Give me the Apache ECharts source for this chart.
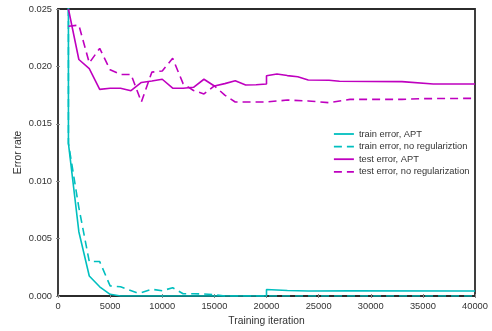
<!DOCTYPE html>
<html>
<head>
<meta charset="utf-8">
<script src="https://cdn.jsdelivr.net/npm/echarts@6/dist/echarts.min.js"></script>
<style>
  html, body { margin: 0; padding: 0; background: #fff; }
  #chart { width: 492px; height: 331px; }
</style>
</head>
<body>
<div id="chart"></div>
<script>
// Error curves over training iterations (values above 0.025 run off the top of the axis)
const trainAptIter = [1000, 1000, 2000, 3000, 4000, 5000, 6000, 20000, 20000, 22000, 24000, 28000, 40000];
const trainAptErr  = [0.05, 0.0133, 0.0056, 0.00174, 0.0008, 0.00015, 0.0, 0.0, 0.00056, 0.00048, 0.00044, 0.00045, 0.00044];

const trainNoRegIter = [1000, 1000, 2000, 3000, 4000, 5000, 6000, 7500, 8000, 9000, 10000, 11000, 12000, 13000, 14000, 15000, 16000, 40000];
const trainNoRegErr  = [0.05, 0.0133, 0.0077, 0.0030, 0.0030, 0.00088, 0.0008, 0.0003, 0.0003, 0.00058, 0.00046, 0.00072, 0.0002, 0.0002, 0.00017, 0.00012, 0.0, 0.0];

const testAptIter = [1000, 2000, 3000, 4000, 5000, 6000, 7000, 8000, 9000, 10000, 11000, 12000, 13000, 14000, 15000, 16000, 17000, 18000, 19000, 20000, 20000, 21000, 22000, 23000, 24000, 26000, 27000, 33000, 36000, 40000];
const testAptErr  = [0.025, 0.0206, 0.0198, 0.0180, 0.0181, 0.0181, 0.01788, 0.0186, 0.01873, 0.01888, 0.0181, 0.0181, 0.01818, 0.01888, 0.01829, 0.0185, 0.01875, 0.01838, 0.0184, 0.01847, 0.01919, 0.01934, 0.0192, 0.0191, 0.01882, 0.01879, 0.0187, 0.01867, 0.01847, 0.01847];

const testNoRegIter = [1000, 2000, 3000, 4000, 5000, 6000, 7000, 8000, 9000, 10000, 11000, 12000, 13000, 14000, 15000, 16000, 17000, 18000, 20000, 22000, 24000, 26000, 28000, 33000, 35000, 40000];
const testNoRegErr  = [0.0235, 0.0236, 0.0203, 0.02157, 0.0197, 0.0193, 0.0193, 0.0169, 0.0195, 0.0196, 0.0207, 0.0185, 0.0179, 0.0176, 0.0183, 0.0175, 0.0169, 0.0169, 0.0169, 0.01707, 0.01699, 0.01684, 0.01713, 0.01713, 0.01719, 0.01722];

const seriesNames = ['train error, APT', 'train error, no regulariztion', 'test error, APT', 'test error, no regularization'];
const xTitle = 'Training iteration';
const yTitle = 'Error rate';

const CYAN = '#00bfbf';
const MAGENTA = '#bf00bf';
const FONT = 'Liberation Sans, Arial, sans-serif';
const TEXT = '#333';

function pairs(xs, ys) { return xs.map((x, i) => [x, ys[i]]); }

function lineSeries(name, xs, ys, color, dashed) {
  return {
    name: name,
    type: 'line',
    data: pairs(xs, ys),
    symbol: 'none',
    clip: true,
    animation: false,
    color: color,
    lineStyle: { color: color, width: 1.6, type: dashed ? [8, 5] : 'solid' }
  };
}

const tick = { show: true, inside: false, length: 2, lineStyle: { color: '#888', width: 1 } };

const chart = echarts.init(document.getElementById('chart'), null, { renderer: 'canvas' });
chart.setOption({
  animation: false,
  backgroundColor: '#fff',
  textStyle: { fontFamily: FONT },
  grid: {
    left: 58, right: 17, top: 9, bottom: 35,
    outerBoundsMode: 'none', containLabel: false,
    show: true, borderColor: '#2b2b2b', borderWidth: 1.8, backgroundColor: 'transparent'
  },
  legend: {
    orient: 'vertical',
    left: 328,
    top: 124,
    itemWidth: 20,
    itemHeight: 10,
    itemGap: 2.6,
    itemStyle: { opacity: 0 },
    lineStyle: { width: 1.8 },
    textStyle: { fontFamily: FONT, fontSize: 9.3, color: TEXT, lineHeight: 10 },
    data: seriesNames
  },
  xAxis: [{
    type: 'value', min: 0, max: 40000, interval: 5000,
    name: xTitle, nameLocation: 'middle', nameGap: 20, nameMoveOverlap: false,
    nameTextStyle: { fontFamily: FONT, fontSize: 10.3, color: TEXT },
    axisLine: { show: false },
    axisTick: tick,
    splitLine: { show: false },
    axisLabel: { fontFamily: FONT, fontSize: 9.3, color: TEXT, margin: 6, formatter: v => String(v) }
  }, {
    type: 'value', min: 0, max: 40000, interval: 5000, position: 'top',
    axisLine: { show: false }, axisTick: tick, splitLine: { show: false }, axisLabel: { show: false }
  }],
  yAxis: [{
    type: 'value', min: 0, max: 0.025, interval: 0.005,
    name: yTitle, nameLocation: 'middle', nameGap: 35, nameMoveOverlap: false,
    nameTextStyle: { fontFamily: FONT, fontSize: 10.3, color: TEXT },
    axisLine: { show: false },
    axisTick: tick,
    splitLine: { show: false },
    axisLabel: { fontFamily: FONT, fontSize: 9.3, color: TEXT, margin: 6, formatter: v => v.toFixed(3) }
  }, {
    type: 'value', min: 0, max: 0.025, interval: 0.005, position: 'right',
    axisLine: { show: false }, axisTick: tick, splitLine: { show: false }, axisLabel: { show: false }
  }],
  series: [
    lineSeries(seriesNames[0], trainAptIter, trainAptErr, CYAN, false),
    lineSeries(seriesNames[1], trainNoRegIter, trainNoRegErr, CYAN, true),
    lineSeries(seriesNames[2], testAptIter, testAptErr, MAGENTA, false),
    lineSeries(seriesNames[3], testNoRegIter, testNoRegErr, MAGENTA, true)
  ]
});
</script>
</body>
</html>
